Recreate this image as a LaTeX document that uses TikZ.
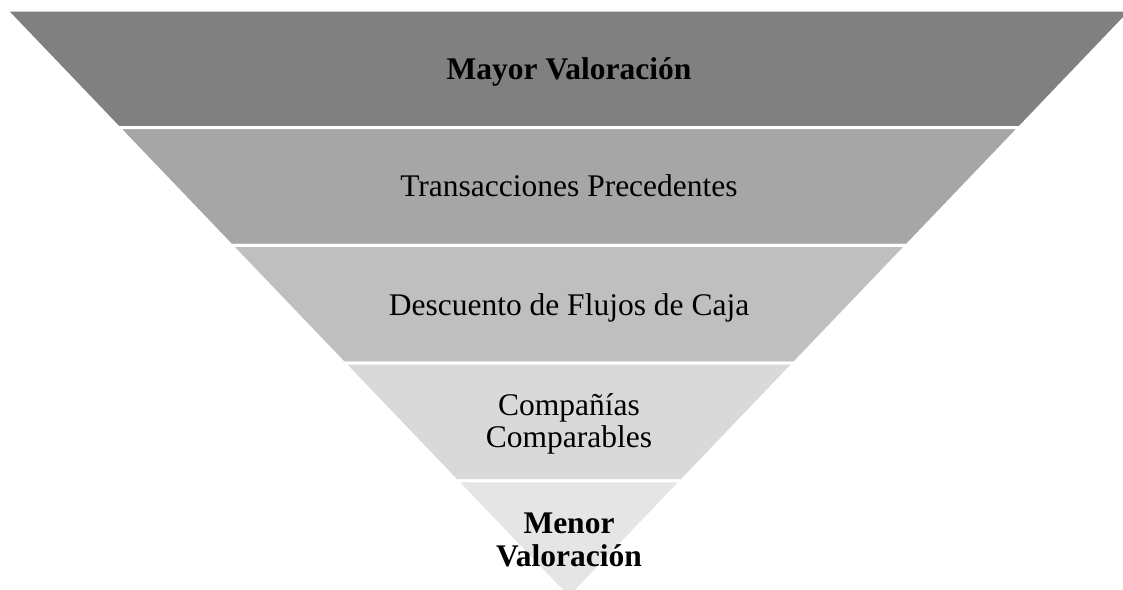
\documentclass[tikz,border=0pt]{standalone}
\usepackage{fontspec}
\setmainfont{Liberation Serif}
\usetikzlibrary{calc,positioning}

\begin{document}
\begin{tikzpicture}[x=1pt,y=-1pt,
      layer/.style={draw=white, line width=3pt, line join=miter},
      txt/.style={font=\fontsize{31.5}{32.5}\selectfont, align=center, inner sep=0pt}]
    \clip (0,0) rectangle (1123,589);
    \coordinate (TL) at (6,10);
    \coordinate (TR) at (1132,10);
    \coordinate (apex) at (569,598.5);
    %% Layers
    \foreach \i/\lev in {0/50,1/35,2/25,3/15,4/10} {
      \pgfmathsetmacro{\ta}{\i/5}
      \pgfmathsetmacro{\tb}{(\i+1)/5}
      \path [layer, fill=black!\lev] ($(TL)!\ta!(apex)$) -- ($(TR)!\ta!(apex)$)
        -- ($(TR)!\tb!(apex)$) -- ($(TL)!\tb!(apex)$) -- cycle;
    }
    %% Labels
    \node [txt, anchor=base] (mayor) at (569,79) {\textbf{Mayor Valoración}};
    \node [txt, anchor=base] (trans) at (569,196) {Transacciones Precedentes};
    \node [txt, anchor=base] (dcf) at (569,315) {Descuento de Flujos de Caja};
    \node [txt] (comp) at (569,424) {Compañías\\Comparables};
    \node [txt, font=\fontsize{31.5}{33}\selectfont\bfseries] (menor) at (569,540) {Menor\\Valoración};
\end{tikzpicture}
\end{document}
